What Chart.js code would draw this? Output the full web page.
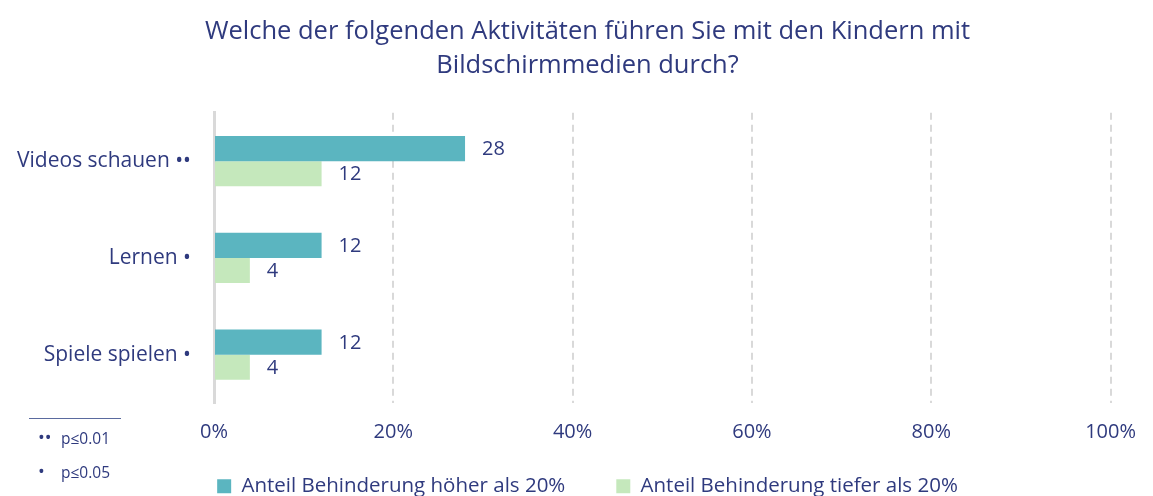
<!DOCTYPE html>
<html lang="de">
<head>
  <meta charset="UTF-8" />
  <title>Aktivitäten mit Bildschirmmedien</title>
  <script src="https://cdn.jsdelivr.net/npm/chart.js"></script>
  <style>
    * { box-sizing: border-box; }
    body { margin: 0; background: #fff; font-family: 'Open Sans', sans-serif; }
    .wrap { position: relative; width: 1153px; height: 496px; }
    canvas { display: block; }
    .note-line {
      position: absolute; left: 29px; top: 418px; width: 92px;
      border-top: 1px solid #5a6a9e;
    }
    .note { position: absolute; left: 38px; font-size: 15.5px; color: #2f3a7e; white-space: nowrap; }
    .note b { display: inline-block; width: 23px; font-weight: normal; font-size: 18px; line-height: 1; }
  </style>
</head>
<body>
<div class="wrap">
  <canvas id="chart" width="1153" height="496"></canvas>
  <div class="note-line"></div>
  <div class="note" style="top:427px"><b>&bull;&bull;</b>p≤0.01</div>
  <div class="note" style="top:461px"><b>&bull;</b>p≤0.05</div>
</div>

<script>
  const categories = ['Videos schauen \u2022\u2022', 'Lernen \u2022', 'Spiele spielen \u2022'];
  const higher = [28, 12, 12];
  const lower = [12, 4, 4];
  const seriesNames = ['Anteil Behinderung höher als 20%', 'Anteil Behinderung tiefer als 20%'];
  const xTicks = [0, 20, 40, 60, 80, 100];

  const navy = '#2f3a7e';
  const font = 'Open Sans, sans-serif';

  // value labels right of each bar
  const valueLabels = {
    id: 'valueLabels',
    afterDatasetsDraw(chart) {
      const ctx = chart.ctx;
      ctx.save();
      ctx.font = '20px ' + font;
      ctx.fillStyle = navy;
      ctx.textBaseline = 'middle';
      chart.data.datasets.forEach((ds, i) => {
        chart.getDatasetMeta(i).data.forEach((bar, j) => {
          ctx.fillText(ds.data[j], bar.x + 17, bar.y + 1);
        });
      });
      ctx.restore();
    }
  };

  // tick labels may reach outside the scale box (don't clip them)
  const noLabelClip = scale => { scale._computeLabelArea = () => undefined; };

  new Chart(document.getElementById('chart'), {
    type: 'bar',
    data: {
      labels: categories,
      datasets: [
        { label: seriesNames[0], data: higher, backgroundColor: '#5bb5c0' },
        { label: seriesNames[1], data: lower, backgroundColor: '#c5e8bc' }
      ]
    },
    options: {
      indexAxis: 'y',
      responsive: false,
      animation: false,
      layout: { padding: { left: 58, right: 36, top: 8, bottom: 0 } },
      datasets: { bar: { categoryPercentage: 0.52, barPercentage: 1 } },
      plugins: {
        title: {
          display: true,
          text: ['Welche der folgenden Aktivitäten führen Sie mit den Kindern mit', 'Bildschirmmedien durch?'],
          color: navy,
          font: { family: font, size: 25.5, weight: 'normal', lineHeight: 1.33 },
          padding: { top: 7, bottom: 30 }
        },
        legend: {
          position: 'bottom',
          maxHeight: 71,
          labels: {
            color: navy,
            font: { family: font, size: 20.5 },
            boxWidth: 14, boxHeight: 14,
            padding: 51
          }
        },
        tooltip: { enabled: false }
      },
      scales: {
        x: {
          min: 0, max: 100,
          afterBuildTicks(scale) { scale.ticks = xTicks.map(v => ({ value: v })); },
          afterFit(scale) { scale.height = 22; noLabelClip(scale); },
          ticks: {
            color: navy,
            font: { family: font, size: 20 },
            padding: 17,
            callback: v => v + '%'
          },
          grid: {
            color: ctx => ctx.index === 0 ? 'rgba(0,0,0,0)' : '#d9d9d9',
            lineWidth: 2,
            drawTicks: false
          },
          border: { display: false, dash: [7, 5] }
        },
        y: {
          afterFit(scale) { scale.width = 214 - 58; noLabelClip(scale); },
          ticks: {
            color: navy,
            font: { family: font, size: 21 },
            padding: 23
          },
          grid: { display: false, drawTicks: false },
          border: { display: true, color: '#d9d9d9', width: 3 }
        }
      }
    },
    plugins: [valueLabels]
  });
</script>
</body>
</html>
